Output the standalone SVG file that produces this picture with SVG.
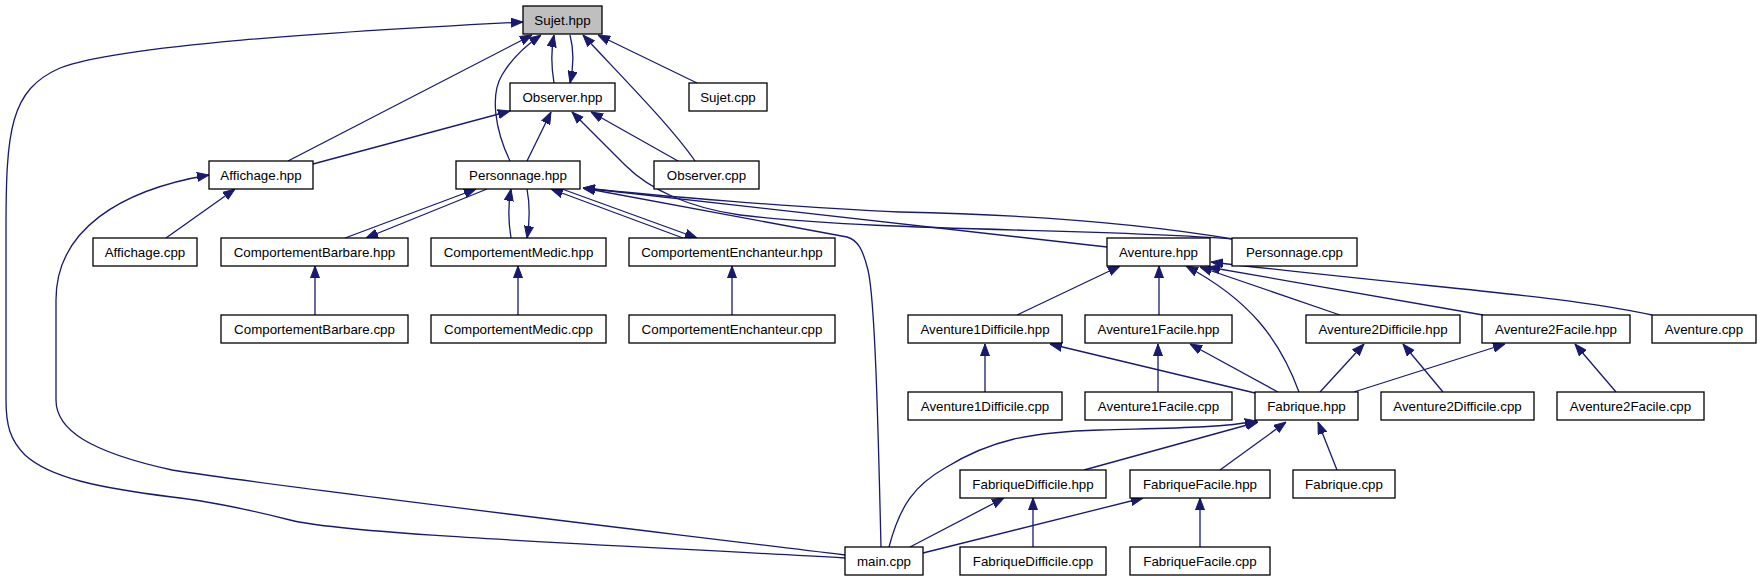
<svg xmlns="http://www.w3.org/2000/svg" width="1760" height="581" viewBox="0 0 1760 581">
<style>
.n rect{fill:#fff;stroke:#000;stroke-width:1.3}
.n.root rect{fill:#bfbfbf}
.n text{font-family:"Liberation Sans",Arial,sans-serif;font-size:13.33px;fill:#000;text-anchor:middle}
.e path{fill:none;stroke:#191970;stroke-width:1.3;marker-end:url(#ah)}
</style>
<defs>
<marker id="ah" markerUnits="userSpaceOnUse" markerWidth="12" markerHeight="10" viewBox="0 0 12 10" refX="12" refY="5" orient="auto">
<path d="M0,0.5 L12,5 L0,9.5 z" fill="#191970" stroke="#191970" stroke-width="1"/>
</marker>
</defs>
<rect width="1760" height="581" fill="#fff"/>
<g id="edges" class="e">
<path d="M845,558 C620,545 350,535 290,520 C230,505 200,500 172,497 C100,488 50,478 25,455 C10,440 6,425 6,400 L6,230 C6,130 10,90 60,68 C120,45 330,32 523,22"/>
<path d="M845,555 C600,525 300,490 172,470 C90,452 56,430 56,400 L56,300 C56,230 120,190 209,175"/>
<path d="M288,161 L532,35"/>
<path d="M510,161 C495,130 490,95 502,75 C512,58 528,44 541,35"/>
<path d="M554,83 C551,65 551,50 554,35"/>
<path d="M570,35 C574,50 574,65 570,83"/>
<path d="M695,161 C670,125 620,75 583,35"/>
<path d="M697,83 L598,35"/>
<path d="M313,164 L510,111"/>
<path d="M527,161 L551,112"/>
<path d="M678,161 L591,112"/>
<path d="M1233,239 C1100,228 880,232 740,215 C690,208 650,190 625,165 C600,140 585,125 572,112"/>
<path d="M1233,239 C1150,225 1050,215 900,212 C800,208 650,195 583,188"/>
<path d="M1107,247 L583,188"/>
<path d="M881,547 C878,420 875,300 868,270 C863,250 858,240 847,237 L583,188"/>
<path d="M345,238 L476,189"/>
<path d="M487,189 L366,238"/>
<path d="M511,238 C508,220 508,205 511,189"/>
<path d="M527,189 C530,205 530,220 527,238"/>
<path d="M683,238 L551,189"/>
<path d="M562,189 L697,238"/>
<path d="M166,238 L235,189"/>
<path d="M315,315 L315,266"/>
<path d="M518,315 L518,266"/>
<path d="M732,315 L732,266"/>
<path d="M1017,315 L1120,266"/>
<path d="M1159,315 L1159,266"/>
<path d="M1299,392 C1280,340 1250,300 1186,266"/>
<path d="M1340,315 L1200,267"/>
<path d="M1483,315 L1208,267"/>
<path d="M1652,315 C1560,295 1450,290 1211,262"/>
<path d="M1255,393 L1050,344"/>
<path d="M1278,392 L1190,344"/>
<path d="M1320,392 L1364,344"/>
<path d="M1354,392 L1505,344"/>
<path d="M985,392 L985,344"/>
<path d="M1158,392 L1158,344"/>
<path d="M1443,392 L1403,344"/>
<path d="M1616,392 L1575,344"/>
<path d="M889,547 C900,505 915,485 945,468 C990,440 1030,432 1100,430 C1170,428 1220,428 1257,421"/>
<path d="M1084,470 L1258,422"/>
<path d="M1220,470 L1286,422"/>
<path d="M1337,470 L1318,422"/>
<path d="M910,547 L1004,498"/>
<path d="M1033,547 L1033,498"/>
<path d="M923,553 L1143,498"/>
<path d="M1200,547 L1200,498"/>
</g>
<g id="n_sujet_hpp" class="n root"><rect x="523" y="6" width="79" height="28"/><text x="562.5" y="24.5">Sujet.hpp</text></g>
<g id="n_observer_hpp" class="n"><rect x="510" y="83" width="105" height="28"/><text x="562.5" y="101.5">Observer.hpp</text></g>
<g id="n_sujet_cpp" class="n"><rect x="689" y="83" width="78" height="28"/><text x="728" y="101.5">Sujet.cpp</text></g>
<g id="n_affichage_hpp" class="n"><rect x="209" y="161" width="104" height="28"/><text x="261" y="179.5">Affichage.hpp</text></g>
<g id="n_personnage_hpp" class="n"><rect x="456" y="161" width="124" height="28"/><text x="518" y="179.5">Personnage.hpp</text></g>
<g id="n_observer_cpp" class="n"><rect x="654" y="161" width="105" height="28"/><text x="706.5" y="179.5">Observer.cpp</text></g>
<g id="n_affichage_cpp" class="n"><rect x="93" y="238" width="104" height="28"/><text x="145" y="256.5">Affichage.cpp</text></g>
<g id="n_cb_hpp" class="n"><rect x="221" y="238" width="187" height="28"/><text x="314.5" y="256.5">ComportementBarbare.hpp</text></g>
<g id="n_cm_hpp" class="n"><rect x="431" y="238" width="175" height="28"/><text x="518.5" y="256.5">ComportementMedic.hpp</text></g>
<g id="n_ce_hpp" class="n"><rect x="629" y="238" width="206" height="28"/><text x="732" y="256.5">ComportementEnchanteur.hpp</text></g>
<g id="n_aventure_hpp" class="n"><rect x="1107" y="238" width="103" height="28"/><text x="1158.5" y="256.5">Aventure.hpp</text></g>
<g id="n_personnage_cpp" class="n"><rect x="1232" y="238" width="125" height="28"/><text x="1294.5" y="256.5">Personnage.cpp</text></g>
<g id="n_cb_cpp" class="n"><rect x="221" y="315" width="187" height="28"/><text x="314.5" y="333.5">ComportementBarbare.cpp</text></g>
<g id="n_cm_cpp" class="n"><rect x="431" y="315" width="175" height="28"/><text x="518.5" y="333.5">ComportementMedic.cpp</text></g>
<g id="n_ce_cpp" class="n"><rect x="629" y="315" width="206" height="28"/><text x="732" y="333.5">ComportementEnchanteur.cpp</text></g>
<g id="n_a1d_hpp" class="n"><rect x="908" y="315" width="154" height="28"/><text x="985" y="333.5">Aventure1Difficile.hpp</text></g>
<g id="n_a1f_hpp" class="n"><rect x="1085" y="315" width="147" height="28"/><text x="1158.5" y="333.5">Aventure1Facile.hpp</text></g>
<g id="n_a2d_hpp" class="n"><rect x="1306" y="315" width="154" height="28"/><text x="1383" y="333.5">Aventure2Difficile.hpp</text></g>
<g id="n_a2f_hpp" class="n"><rect x="1482" y="315" width="148" height="28"/><text x="1556" y="333.5">Aventure2Facile.hpp</text></g>
<g id="n_aventure_cpp" class="n"><rect x="1652" y="315" width="104" height="28"/><text x="1704" y="333.5">Aventure.cpp</text></g>
<g id="n_a1d_cpp" class="n"><rect x="908" y="392" width="154" height="28"/><text x="985" y="410.5">Aventure1Difficile.cpp</text></g>
<g id="n_a1f_cpp" class="n"><rect x="1085" y="392" width="147" height="28"/><text x="1158.5" y="410.5">Aventure1Facile.cpp</text></g>
<g id="n_fabrique_hpp" class="n"><rect x="1255" y="392" width="103" height="28"/><text x="1306.5" y="410.5">Fabrique.hpp</text></g>
<g id="n_a2d_cpp" class="n"><rect x="1381" y="392" width="153" height="28"/><text x="1457.5" y="410.5">Aventure2Difficile.cpp</text></g>
<g id="n_a2f_cpp" class="n"><rect x="1557" y="392" width="147" height="28"/><text x="1630.5" y="410.5">Aventure2Facile.cpp</text></g>
<g id="n_fd_hpp" class="n"><rect x="960" y="470" width="146" height="28"/><text x="1033" y="488.5">FabriqueDifficile.hpp</text></g>
<g id="n_ff_hpp" class="n"><rect x="1130" y="470" width="140" height="28"/><text x="1200" y="488.5">FabriqueFacile.hpp</text></g>
<g id="n_fabrique_cpp" class="n"><rect x="1293" y="470" width="102" height="28"/><text x="1344" y="488.5">Fabrique.cpp</text></g>
<g id="n_main_cpp" class="n"><rect x="845" y="547" width="78" height="28"/><text x="884" y="565.5">main.cpp</text></g>
<g id="n_fd_cpp" class="n"><rect x="960" y="547" width="146" height="28"/><text x="1033" y="565.5">FabriqueDifficile.cpp</text></g>
<g id="n_ff_cpp" class="n"><rect x="1130" y="547" width="140" height="28"/><text x="1200" y="565.5">FabriqueFacile.cpp</text></g>
</svg>
